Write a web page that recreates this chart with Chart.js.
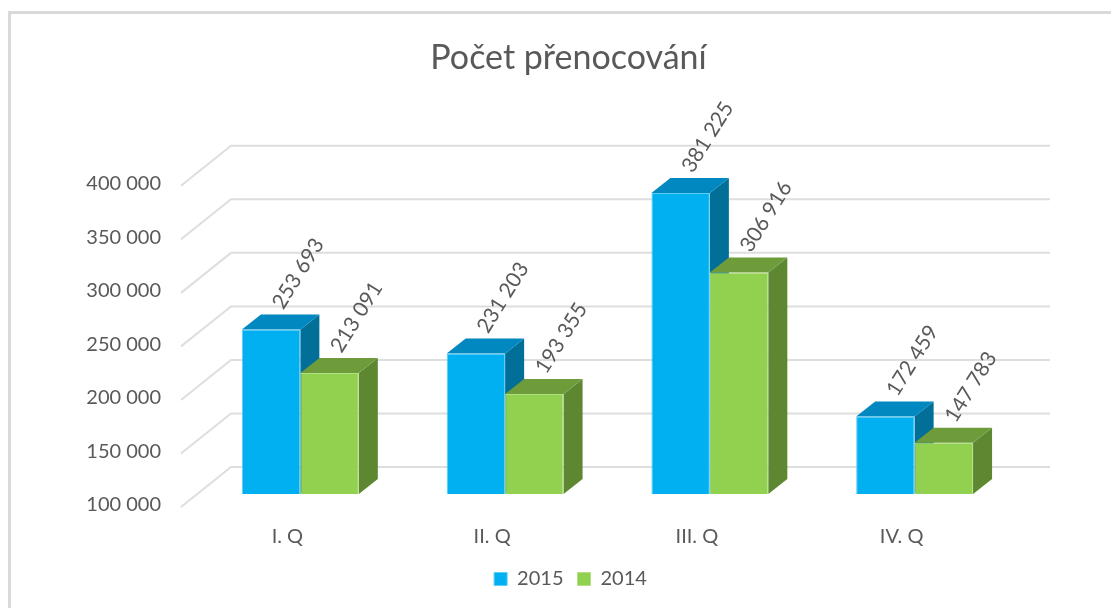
<!DOCTYPE html>
<html>
<head>
<meta charset="utf-8">
<script src="https://cdn.jsdelivr.net/npm/chart.js@4/dist/chart.umd.min.js"></script>
<style>
  html, body { margin: 0; padding: 0; background: #fff; }
  #wrap { width: 1111px; height: 608px; }
</style>
</head>
<body>
<div id="wrap"><canvas id="chart-prenocovani"></canvas></div>
<script>
  // data
  const categories = ['I. Q', 'II. Q', 'III. Q', 'IV. Q'];
  const serie2015 = [253693, 231203, 381225, 172459];
  const serie2014 = [213091, 193355, 306916, 147783];
  const seriesNames = ['2015', '2014'];
  const yMin = 100000, yMax = 400000, yStep = 50000;

  const fontFamily = "Lato, 'Open Sans', sans-serif";
  const textColor = '#595959';

  // front / top / side colors per serie
  const faces = [
    { front: '#00b0f0', top: '#0188c0', side: '#026f99', edge: '#5cccf5' },
    { front: '#92d050', top: '#6e9c3b', side: '#5d8731', edge: '#b2df84' }
  ];

  const depthBar = { dx: 19, dy: -15 };   // hloubka sloupce
  const depthWall = { dx: 33, dy: -27 };  // posun zadni steny
  const depthFloor = { dx: -17, dy: 13 }; // predni hrana podlahy

  const fmt = n => String(n).replace(/\B(?=(\d{3})+(?!\d))/g, ' ');

  /* ========== plugin: ramecek, mrizka, 3D steny sloupcu ========== */
  const plugin3d = {
    id: 'plugin3d',
    afterLayout(chart) {
      // titulek a legenda jsou v originale posunute doprava
      chart.titleBlock.left += 20;
      chart.titleBlock.right += 20;
      chart.legend.left += 22;
      chart.legend.right += 22;
    },
    beforeDraw(chart) {
      const ctx = chart.ctx;
      ctx.save();
      ctx.strokeStyle = '#d9d9d9';
      ctx.lineWidth = 3;
      ctx.beginPath();
      ctx.moveTo(9.5, 608);
      ctx.lineTo(9.5, 12.5);
      ctx.lineTo(1111, 12.5);
      ctx.stroke();
      ctx.restore();
    },
    beforeDatasetsDraw(chart) {
      const ctx = chart.ctx;
      const y = chart.scales.y;
      const { left, right, bottom } = chart.chartArea;
      ctx.save();
      ctx.strokeStyle = '#dedede';
      ctx.lineWidth = 2;
      y.ticks.forEach(t => {
        const py = y.getPixelForValue(t.value);
        ctx.beginPath();
        ctx.moveTo(left + depthFloor.dx, py + depthFloor.dy);
        ctx.lineTo(left + depthWall.dx, py + depthWall.dy);
        ctx.lineTo(right + depthWall.dx, py + depthWall.dy);
        ctx.stroke();
      });

      const metas = [chart.getDatasetMeta(0), chart.getDatasetMeta(1)];
      for (let i = 0; i < categories.length; i++) {
        metas.forEach((meta, d) => {
          const bar = meta.data[i];
          const { x, y: top, width } = bar.getProps(['x', 'y', 'width'], true);
          const base = bottom;
          const l = x - width / 2, r = x + width / 2;
          const c = faces[d];
          // bok
          ctx.fillStyle = c.side;
          ctx.beginPath();
          ctx.moveTo(r, top);
          ctx.lineTo(r + depthBar.dx, top + depthBar.dy);
          ctx.lineTo(r + depthBar.dx, base + depthBar.dy);
          ctx.lineTo(r, base);
          ctx.closePath();
          ctx.fill();
          // vrch
          ctx.fillStyle = c.top;
          ctx.beginPath();
          ctx.moveTo(l, top);
          ctx.lineTo(l + depthBar.dx, top + depthBar.dy);
          ctx.lineTo(r + depthBar.dx, top + depthBar.dy);
          ctx.lineTo(r, top);
          ctx.closePath();
          ctx.fill();
        });
      }
      ctx.restore();
    },
    afterDatasetsDraw(chart) {
      const ctx = chart.ctx;
      ctx.save();
      ctx.fillStyle = textColor;
      ctx.font = `21px ${fontFamily}`;
      ctx.textAlign = 'left';
      ctx.textBaseline = 'alphabetic';
      chart.data.datasets.forEach((ds, d) => {
        chart.getDatasetMeta(d).data.forEach((bar, i) => {
          const { x, y } = bar.getProps(['x', 'y'], true);
          ctx.save();
          ctx.translate(x + 12, y - 19);
          ctx.rotate(-58 * Math.PI / 180);
          ctx.fillText(fmt(ds.data[i]), 0, 0);
          ctx.restore();
        });
      });
      ctx.restore();
    }
  };

  let canvas = document.getElementById('chart-prenocovani').getContext('2d');

  let chart = new Chart(canvas, {
    type: 'bar',
    data: {
      labels: categories,
      datasets: [{
        label: seriesNames[0],
        data: serie2015,
        backgroundColor: faces[0].front,
        borderColor: faces[0].edge,
        borderWidth: 1,
        categoryPercentage: 0.571,
        barPercentage: 1
      }, {
        label: seriesNames[1],
        data: serie2014,
        backgroundColor: faces[1].front,
        borderColor: faces[1].edge,
        borderWidth: 1,
        categoryPercentage: 0.571,
        barPercentage: 1
      }]
    },
    options: {
      responsive: true,
      maintainAspectRatio: false,
      animation: false,
      layout: { padding: { left: 80, right: 94, top: 0, bottom: 9 } },
      plugins: {
        title: {
          display: true,
          text: 'Počet přenocování',
          color: textColor,
          font: { family: fontFamily, size: 34, weight: 'normal' },
          padding: { top: 38, bottom: 94 }
        },
        legend: {
          position: 'bottom',
          labels: {
            color: textColor,
            font: { family: fontFamily, size: 20 },
            boxWidth: 13,
            boxHeight: 13,
            padding: 14
          }
        },
        tooltip: { enabled: false }
      },
      scales: {
        x: {
          grid: { display: false, drawTicks: false },
          border: { display: false },
          ticks: {
            color: textColor,
            font: { family: fontFamily, size: 20 },
            padding: 31,
            labelOffset: -13
          },
          afterFit(scale) { scale.height = 61; }
        },
        y: {
          min: yMin,
          max: yMax,
          grid: { display: false, drawTicks: false },
          border: { display: false },
          ticks: {
            stepSize: yStep,
            color: textColor,
            font: { family: fontFamily, size: 20 },
            padding: 37,
            labelOffset: 11,
            callback: v => fmt(v)
          },
          afterFit(scale) { scale.width = 118; }
        }
      }
    },
    plugins: [plugin3d]
  });
</script>
</body>
</html>
